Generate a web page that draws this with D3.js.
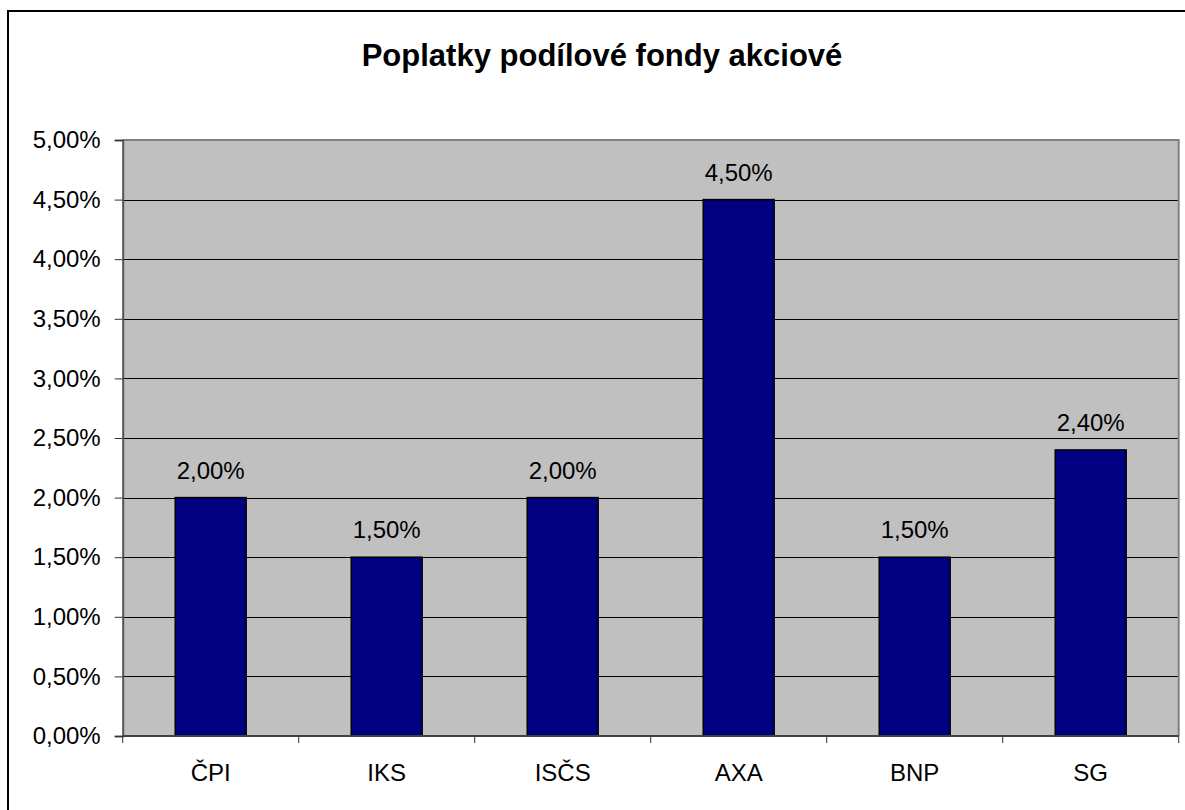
<!DOCTYPE html>
<html>
<head>
<meta charset="utf-8">
<script src="https://cdn.jsdelivr.net/npm/d3@7"></script>
<style>
  html, body { margin: 0; padding: 0; background: #ffffff; }
  svg { display: block; }
  text { font-family: "Liberation Sans", Arial, sans-serif; fill: #000; }
</style>
</head>
<body>
<svg id="chart" width="1185" height="810"></svg>
<script>
// Fees of equity mutual funds by provider
const categories = ["ČPI", "IKS", "ISČS", "AXA", "BNP", "SG"];
const fees = [0.020, 0.015, 0.020, 0.045, 0.015, 0.024];
const yTicks = [0, 0.005, 0.01, 0.015, 0.02, 0.025, 0.03, 0.035, 0.04, 0.045, 0.05];
const title = "Poplatky podílové fondy akciové";

const svg = d3.select("#chart");
const W = 1185, H = 810;
const FONT = "'Liberation Sans', Arial, sans-serif";

// Czech number formatting: decimal comma
const cz = d3.formatLocale({ decimal: ",", thousands: "\u00a0", grouping: [3], currency: ["", " Kč"] });
const pct = cz.format(".2%");

const plot = { left: 122.7, right: 1178.7, top: 140, bottom: 736 };

const x = d3.scaleBand()
  .domain(categories)
  .range([plot.left, plot.right])
  .paddingInner(0.597)
  .paddingOuter(0.597 / 2);

const y = d3.scaleLinear()
  .domain([0, 0.05])
  .range([plot.bottom, plot.top]);

// chart-area frame
svg.append("rect")
  .attr("x", 8).attr("y", 11)
  .attr("width", W + 20).attr("height", H + 20)
  .attr("fill", "#fff")
  .attr("stroke", "#000").attr("stroke-width", 2);

// title
svg.append("text")
  .attr("x", 602).attr("y", 66)
  .attr("text-anchor", "middle")
  .attr("font-size", 31).attr("font-weight", "bold")
  .text(title);

// plot area
svg.append("rect")
  .attr("x", plot.left).attr("y", plot.top)
  .attr("width", plot.right - plot.left).attr("height", plot.bottom - plot.top)
  .attr("fill", "#c0c0c0");

// gridlines
svg.append("g")
  .selectAll("line")
  .data(yTicks.filter(t => t > 0 && t < 0.05))
  .join("line")
  .attr("x1", plot.left).attr("x2", plot.right)
  .attr("y1", d => Math.round(y(d)) + 0.5).attr("y2", d => Math.round(y(d)) + 0.5)
  .attr("stroke", "#000").attr("stroke-width", 1);

// plot-area border (top and right)
svg.append("path")
  .attr("d", `M${plot.left},${plot.top} H${plot.right} V${plot.bottom}`)
  .attr("fill", "none").attr("stroke", "#808080").attr("stroke-width", 2);

// bars
svg.append("g")
  .selectAll("rect")
  .data(categories.map((c, i) => ({ c, v: fees[i] })))
  .join("rect")
  .attr("x", d => x(d.c))
  .attr("y", d => y(d.v))
  .attr("width", x.bandwidth())
  .attr("height", d => y(0) - y(d.v))
  .attr("fill", "#000080")
  .attr("stroke", "#000").attr("stroke-width", 1.5);

// value labels
svg.append("g")
  .selectAll("text")
  .data(categories.map((c, i) => ({ c, v: fees[i] })))
  .join("text")
  .attr("x", d => x(d.c) + x.bandwidth() / 2)
  .attr("y", d => y(d.v) - 19)
  .attr("text-anchor", "middle")
  .attr("font-size", 24)
  .text(d => pct(d.v));

// y axis
const yAxis = d3.axisLeft(y)
  .tickValues(yTicks)
  .tickFormat(pct)
  .tickSize(8)
  .tickPadding(14);
const gy = svg.append("g")
  .attr("transform", `translate(${plot.left},0)`)
  .call(yAxis);
gy.attr("font-family", FONT);
gy.select(".domain").attr("stroke", "#555").attr("stroke-width", 2);
gy.selectAll(".tick line").attr("stroke", "#333");
gy.selectAll(".tick text")
  .attr("font-size", 24)
  .attr("font-family", FONT)
  .attr("fill", "#000");

// x axis: baseline with category-boundary ticks
svg.append("line")
  .attr("x1", plot.left).attr("x2", plot.right)
  .attr("y1", plot.bottom).attr("y2", plot.bottom)
  .attr("stroke", "#404040").attr("stroke-width", 2);

const bounds = d3.range(categories.length + 1).map(i => plot.left + i * x.step());
svg.append("g")
  .selectAll("line")
  .data(bounds)
  .join("line")
  .attr("x1", d => d).attr("x2", d => d)
  .attr("y1", plot.bottom).attr("y2", plot.bottom + 7)
  .attr("stroke", "#333").attr("stroke-width", 1);

svg.append("g")
  .selectAll("text")
  .data(categories)
  .join("text")
  .attr("x", d => x(d) + x.bandwidth() / 2)
  .attr("y", 781)
  .attr("text-anchor", "middle")
  .attr("font-size", 24)
  .attr("font-weight", "normal")
  .text(d => d);
</script>
</body>
</html>
